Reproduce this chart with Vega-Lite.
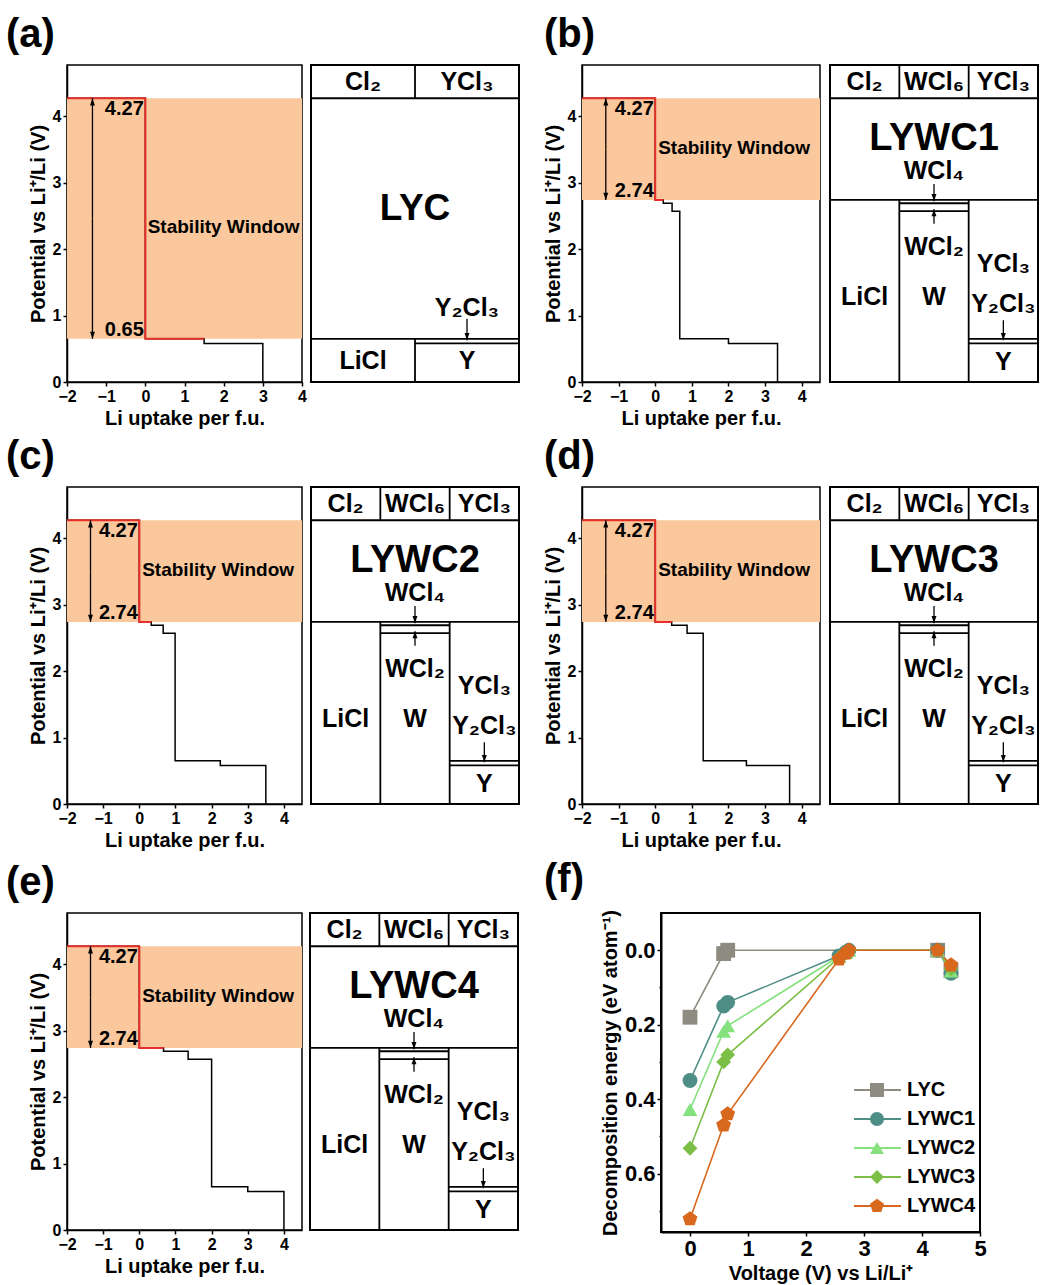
{
  "$schema": "https://vega.github.io/schema/vega-lite/v6.json",
  "padding": {"left": 5, "top": 14, "right": 2, "bottom": 2},
  "background": "white",
  "spacing": 7,
  "resolve": {"scale": {"shape": "independent", "color": "independent", "stroke": "independent"}},
  "config": {
    "font": "Liberation Sans",
    "axis": {"domainColor": "black", "domainWidth": 1.5, "tickColor": "black", "tickWidth": 1.5, "tickSize": 4, "labelColor": "black", "labelFont": "Liberation Sans", "labelFontWeight": "bold", "labelFontSize": 16, "labelPadding": 2, "labelFlush": false, "labelOverlap": false, "labelBound": false, "titleFont": "Liberation Sans", "titleFontWeight": "bold", "titleFontSize": 20, "titleColor": "black", "grid": false},
    "title": {"font": "Liberation Sans", "fontWeight": "bold", "fontSize": 40, "color": "black", "anchor": "start", "frame": "group", "offset": 10}
  },
  "datasets": {
    "steps": [
      {"p": "a", "part": "black", "x": -2, "y": 4.27}, {"p": "a", "part": "black", "x": 0, "y": 0.65}, {"p": "a", "part": "black", "x": 1.5, "y": 0.58}, {"p": "a", "part": "black", "x": 3, "y": 0},
      {"p": "a", "part": "red", "x": -2, "y": 4.27}, {"p": "a", "part": "red", "x": 0, "y": 0.65}, {"p": "a", "part": "red", "x": 1.5, "y": 0.65},
      {"p": "b", "part": "black", "x": -2, "y": 4.27}, {"p": "b", "part": "black", "x": 0, "y": 2.74}, {"p": "b", "part": "black", "x": 0.22, "y": 2.69}, {"p": "b", "part": "black", "x": 0.46, "y": 2.57}, {"p": "b", "part": "black", "x": 0.67, "y": 0.65}, {"p": "b", "part": "black", "x": 2.0, "y": 0.58}, {"p": "b", "part": "black", "x": 3.34, "y": 0},
      {"p": "b", "part": "red", "x": -2, "y": 4.27}, {"p": "b", "part": "red", "x": 0, "y": 2.74}, {"p": "b", "part": "red", "x": 0.22, "y": 2.74},
      {"p": "c", "part": "black", "x": -2, "y": 4.27}, {"p": "c", "part": "black", "x": 0, "y": 2.74}, {"p": "c", "part": "black", "x": 0.33, "y": 2.69}, {"p": "c", "part": "black", "x": 0.66, "y": 2.57}, {"p": "c", "part": "black", "x": 0.99, "y": 0.65}, {"p": "c", "part": "black", "x": 2.24, "y": 0.58}, {"p": "c", "part": "black", "x": 3.5, "y": 0},
      {"p": "c", "part": "red", "x": -2, "y": 4.27}, {"p": "c", "part": "red", "x": 0, "y": 2.74}, {"p": "c", "part": "red", "x": 0.33, "y": 2.74},
      {"p": "d", "part": "black", "x": -2, "y": 4.27}, {"p": "d", "part": "black", "x": 0, "y": 2.74}, {"p": "d", "part": "black", "x": 0.45, "y": 2.69}, {"p": "d", "part": "black", "x": 0.87, "y": 2.57}, {"p": "d", "part": "black", "x": 1.31, "y": 0.65}, {"p": "d", "part": "black", "x": 2.49, "y": 0.58}, {"p": "d", "part": "black", "x": 3.67, "y": 0},
      {"p": "d", "part": "red", "x": -2, "y": 4.27}, {"p": "d", "part": "red", "x": 0, "y": 2.74}, {"p": "d", "part": "red", "x": 0.45, "y": 2.74},
      {"p": "e", "part": "black", "x": -2, "y": 4.27}, {"p": "e", "part": "black", "x": 0, "y": 2.74}, {"p": "e", "part": "black", "x": 0.67, "y": 2.69}, {"p": "e", "part": "black", "x": 1.35, "y": 2.57}, {"p": "e", "part": "black", "x": 2.0, "y": 0.65}, {"p": "e", "part": "black", "x": 3.0, "y": 0.58}, {"p": "e", "part": "black", "x": 4.0, "y": 0},
      {"p": "e", "part": "red", "x": -2, "y": 4.27}, {"p": "e", "part": "red", "x": 0, "y": 2.74}, {"p": "e", "part": "red", "x": 0.67, "y": 2.74}
    ],
    "windows": [
      {"p": "a", "x1": -2, "x2": 4, "y1": 0.65, "y2": 4.27},
      {"p": "b", "x1": -2, "x2": 4.5, "y1": 2.74, "y2": 4.27},
      {"p": "c", "x1": -2, "x2": 4.5, "y1": 2.74, "y2": 4.27},
      {"p": "d", "x1": -2, "x2": 4.5, "y1": 2.74, "y2": 4.27},
      {"p": "e", "x1": -2, "x2": 4.5, "y1": 2.74, "y2": 4.27}
    ],
    "annot": [
      {"p": "a", "k": "v", "x": -0.04, "y": 4.11, "t": "4.27"}, {"p": "a", "k": "v", "x": -0.04, "y": 0.78, "t": "0.65"}, {"p": "a", "k": "n", "x": 0.06, "y": 2.33, "t": "Stability Window"},
      {"p": "b", "k": "v", "x": -0.04, "y": 4.11, "t": "4.27"}, {"p": "b", "k": "v", "x": -0.04, "y": 2.87, "t": "2.74"}, {"p": "b", "k": "n", "x": 0.08, "y": 3.52, "t": "Stability Window"},
      {"p": "c", "k": "v", "x": -0.04, "y": 4.11, "t": "4.27"}, {"p": "c", "k": "v", "x": -0.04, "y": 2.87, "t": "2.74"}, {"p": "c", "k": "n", "x": 0.08, "y": 3.52, "t": "Stability Window"},
      {"p": "d", "k": "v", "x": -0.04, "y": 4.11, "t": "4.27"}, {"p": "d", "k": "v", "x": -0.04, "y": 2.87, "t": "2.74"}, {"p": "d", "k": "n", "x": 0.08, "y": 3.52, "t": "Stability Window"},
      {"p": "e", "k": "v", "x": -0.04, "y": 4.11, "t": "4.27"}, {"p": "e", "k": "v", "x": -0.04, "y": 2.87, "t": "2.74"}, {"p": "e", "k": "n", "x": 0.08, "y": 3.52, "t": "Stability Window"}
    ],
    "arrows": [
      {"p": "a", "x": -1.35, "from": 2.46, "to": 4.27, "dir": "up"}, {"p": "a", "x": -1.35, "from": 2.46, "to": 0.65, "dir": "down"},
      {"p": "b", "x": -1.35, "from": 3.5, "to": 4.27, "dir": "up"}, {"p": "b", "x": -1.35, "from": 3.5, "to": 2.74, "dir": "down"},
      {"p": "c", "x": -1.35, "from": 3.5, "to": 4.27, "dir": "up"}, {"p": "c", "x": -1.35, "from": 3.5, "to": 2.74, "dir": "down"},
      {"p": "d", "x": -1.35, "from": 3.5, "to": 4.27, "dir": "up"}, {"p": "d", "x": -1.35, "from": 3.5, "to": 2.74, "dir": "down"},
      {"p": "e", "x": -1.35, "from": 3.5, "to": 4.27, "dir": "up"}, {"p": "e", "x": -1.35, "from": 3.5, "to": 2.74, "dir": "down"},
      {"p": "LYC", "x": 1.5, "from": 0.95, "to": 0.63, "dir": "down"},
      {"p": "LYWC", "x": 1.5, "from": 2.98, "to": 2.72, "dir": "down"},
      {"p": "LYWC", "x": 1.5, "from": 2.38, "to": 2.6, "dir": "up"},
      {"p": "LYWC", "x": 2.5, "from": 0.93, "to": 0.63, "dir": "down"}
    ],
    "boxlines": [
      {"p": "LYC", "x1": 0, "x2": 2, "y1": 4.27, "y2": 4.27}, {"p": "LYC", "x1": 0, "x2": 2, "y1": 0.65, "y2": 0.65},
      {"p": "LYC", "x1": 1, "x2": 1, "y1": 4.27, "y2": 4.77}, {"p": "LYC", "x1": 1, "x2": 1, "y1": 0, "y2": 0.65},
      {"p": "LYC", "x1": 1, "x2": 2, "y1": 0.58, "y2": 0.58},
      {"p": "LYWC", "x1": 0, "x2": 3, "y1": 4.27, "y2": 4.27}, {"p": "LYWC", "x1": 0, "x2": 3, "y1": 2.74, "y2": 2.74},
      {"p": "LYWC", "x1": 1, "x2": 1, "y1": 4.27, "y2": 4.77}, {"p": "LYWC", "x1": 2, "x2": 2, "y1": 4.27, "y2": 4.77},
      {"p": "LYWC", "x1": 1, "x2": 1, "y1": 0, "y2": 2.74}, {"p": "LYWC", "x1": 2, "x2": 2, "y1": 0, "y2": 2.74},
      {"p": "LYWC", "x1": 1, "x2": 2, "y1": 2.69, "y2": 2.69}, {"p": "LYWC", "x1": 1, "x2": 2, "y1": 2.57, "y2": 2.57},
      {"p": "LYWC", "x1": 2, "x2": 3, "y1": 0.65, "y2": 0.65}, {"p": "LYWC", "x1": 2, "x2": 3, "y1": 0.58, "y2": 0.58}
    ],
    "boxtext": [
      {"p": "LYC", "k": "l", "x": 0.5, "y": 4.52, "t": "Cl₂"}, {"p": "LYC", "k": "l", "x": 1.5, "y": 4.52, "t": "YCl₃"},
      {"p": "LYC", "k": "l", "x": 1.5, "y": 1.12, "t": "Y₂Cl₃"}, {"p": "LYC", "k": "l", "x": 0.5, "y": 0.31, "t": "LiCl"}, {"p": "LYC", "k": "l", "x": 1.5, "y": 0.31, "t": "Y"},
      {"p": "LYWC", "k": "l", "x": 0.5, "y": 4.52, "t": "Cl₂"}, {"p": "LYWC", "k": "l", "x": 1.5, "y": 4.52, "t": "WCl₆"}, {"p": "LYWC", "k": "l", "x": 2.5, "y": 4.52, "t": "YCl₃"},
      {"p": "LYWC", "k": "l", "x": 1.5, "y": 3.18, "t": "WCl₄"}, {"p": "LYWC", "k": "l", "x": 1.5, "y": 2.03, "t": "WCl₂"},
      {"p": "LYWC", "k": "l", "x": 2.5, "y": 1.78, "t": "YCl₃"}, {"p": "LYWC", "k": "l", "x": 0.5, "y": 1.28, "t": "LiCl"},
      {"p": "LYWC", "k": "l", "x": 1.5, "y": 1.28, "t": "W"}, {"p": "LYWC", "k": "l", "x": 2.5, "y": 1.17, "t": "Y₂Cl₃"}, {"p": "LYWC", "k": "l", "x": 2.5, "y": 0.3, "t": "Y"},
      {"p": "A", "k": "b", "x": 1.0, "y": 2.6, "t": "LYC"},
      {"p": "B", "k": "b", "x": 1.5, "y": 3.65, "t": "LYWC1"},
      {"p": "C", "k": "b", "x": 1.5, "y": 3.65, "t": "LYWC2"},
      {"p": "D", "k": "b", "x": 1.5, "y": 3.65, "t": "LYWC3"},
      {"p": "E", "k": "b", "x": 1.5, "y": 3.65, "t": "LYWC4"}
    ],
    "decomp": [
      {"s": "LYC", "v": 0, "e": 0.18}, {"s": "LYC", "v": 0.58, "e": 0.009}, {"s": "LYC", "v": 0.65, "e": 0}, {"s": "LYC", "v": 4.27, "e": 0}, {"s": "LYC", "v": 4.5, "e": 0.055},
      {"s": "LYWC1", "v": 0, "e": 0.35}, {"s": "LYWC1", "v": 0.58, "e": 0.15}, {"s": "LYWC1", "v": 0.65, "e": 0.14}, {"s": "LYWC1", "v": 2.57, "e": 0.015}, {"s": "LYWC1", "v": 2.69, "e": 0.005}, {"s": "LYWC1", "v": 2.74, "e": 0}, {"s": "LYWC1", "v": 4.27, "e": 0}, {"s": "LYWC1", "v": 4.5, "e": 0.062},
      {"s": "LYWC2", "v": 0, "e": 0.428}, {"s": "LYWC2", "v": 0.58, "e": 0.218}, {"s": "LYWC2", "v": 0.65, "e": 0.203}, {"s": "LYWC2", "v": 2.57, "e": 0.017}, {"s": "LYWC2", "v": 2.69, "e": 0.006}, {"s": "LYWC2", "v": 2.74, "e": 0}, {"s": "LYWC2", "v": 4.27, "e": 0}, {"s": "LYWC2", "v": 4.5, "e": 0.056},
      {"s": "LYWC3", "v": 0, "e": 0.532}, {"s": "LYWC3", "v": 0.58, "e": 0.3}, {"s": "LYWC3", "v": 0.65, "e": 0.281}, {"s": "LYWC3", "v": 2.57, "e": 0.02}, {"s": "LYWC3", "v": 2.69, "e": 0.007}, {"s": "LYWC3", "v": 2.74, "e": 0}, {"s": "LYWC3", "v": 4.27, "e": 0}, {"s": "LYWC3", "v": 4.5, "e": 0.05},
      {"s": "LYWC4", "v": 0, "e": 0.722}, {"s": "LYWC4", "v": 0.58, "e": 0.47}, {"s": "LYWC4", "v": 0.65, "e": 0.44}, {"s": "LYWC4", "v": 2.57, "e": 0.024}, {"s": "LYWC4", "v": 2.69, "e": 0.008}, {"s": "LYWC4", "v": 2.74, "e": 0}, {"s": "LYWC4", "v": 4.27, "e": 0}, {"s": "LYWC4", "v": 4.5, "e": 0.04}
    ]
  },
  "vconcat": [
   {"bounds": "flush", "spacing": 0, "resolve": {"scale": {"shape": "independent", "color": "independent", "stroke": "independent"}},
    "hconcat": [
    {"width": 235, "height": 317, "title": {"text": "(a)", "dx": -61}, "view": {"stroke": "black", "strokeWidth": 1.5},
     "layer": [
      {"data": {"name": "windows"}, "transform": [{"filter": "datum.p == 'a'"}], "mark": {"type": "rect", "color": "#FAC89C"},
       "encoding": {
         "x": {"field": "x1", "type": "quantitative", "scale": {"domain": [-2, 4], "nice": false, "zero": false}, "axis": {"title": "Li uptake per f.u.", "tickCount": 40, "labelOverlap": false, "values": [-2, -1.5, -1, -0.5, 0, 0.5, 1, 1.5, 2, 2.5, 3, 3.5, 4], "format": "d", "labelExpr": "datum.value % 1 == 0 ? datum.label : ''", "tickSize": {"condition": {"test": "datum.value % 1 != 0", "value": 2}, "value": 4}}},
         "x2": {"field": "x2"},
         "y": {"field": "y1", "type": "quantitative", "scale": {"domain": [0, 4.77], "nice": false, "zero": false}, "axis": {"title": "Potential vs Li⁺/Li (V)", "tickCount": 40, "labelOverlap": false, "values": [0, 0.5, 1, 1.5, 2, 2.5, 3, 3.5, 4, 4.5], "format": "d", "labelExpr": "datum.value % 1 == 0 ? datum.label : ''", "tickSize": {"condition": {"test": "datum.value % 1 != 0", "value": 2}, "value": 4}}},
         "y2": {"field": "y2"}}},
      {"data": {"name": "steps"}, "transform": [{"filter": "datum.p == 'a' && datum.part == 'black'"}], "mark": {"type": "line", "color": "black", "strokeWidth": 1.5, "interpolate": "step-after"},
       "encoding": {"x": {"field": "x", "type": "quantitative"}, "y": {"field": "y", "type": "quantitative"}}},
      {"data": {"name": "steps"}, "transform": [{"filter": "datum.p == 'a' && datum.part == 'red'"}], "mark": {"type": "line", "color": "#E8302A", "strokeWidth": 2, "interpolate": "step-after"},
       "encoding": {"x": {"field": "x", "type": "quantitative"}, "y": {"field": "y", "type": "quantitative"}}},
      {"data": {"name": "arrows"}, "transform": [{"filter": "datum.p == 'a'"}], "mark": {"type": "rule", "color": "black", "strokeWidth": 1.3},
       "encoding": {"x": {"field": "x", "type": "quantitative"}, "y": {"field": "from", "type": "quantitative"}, "y2": {"field": "to"}}},
      {"data": {"name": "arrows"}, "transform": [{"filter": "datum.p == 'a'"}], "mark": {"type": "point", "filled": true, "color": "black", "size": 80, "opacity": 1},
       "encoding": {"x": {"field": "x", "type": "quantitative"}, "y": {"field": "to", "type": "quantitative"}, "shape": {"field": "dir", "type": "nominal", "scale": {"domain": ["down", "up"], "range": ["M0,0L-0.55,-1.6L0.55,-1.6Z", "M0,0L-0.55,1.6L0.55,1.6Z"]}, "legend": null}}},
      {"data": {"name": "annot"}, "transform": [{"filter": "datum.p == 'a' && datum.k == 'v'"}], "mark": {"type": "text", "align": "right", "baseline": "middle", "fontSize": 20, "fontWeight": "bold", "color": "black"},
       "encoding": {"x": {"field": "x", "type": "quantitative"}, "y": {"field": "y", "type": "quantitative"}, "text": {"field": "t", "type": "nominal"}}},
      {"data": {"name": "annot"}, "transform": [{"filter": "datum.p == 'a' && datum.k == 'n'"}], "mark": {"type": "text", "align": "left", "baseline": "middle", "fontSize": 19, "fontWeight": "bold", "color": "black"},
       "encoding": {"x": {"field": "x", "type": "quantitative"}, "y": {"field": "y", "type": "quantitative"}, "text": {"field": "t", "type": "nominal"}}}
     ]},
    {"width": 9, "height": 10, "data": {"values": []}, "mark": {"type": "point", "opacity": 0}, "view": {"stroke": null}},
    {"width": 208, "height": 317, "view": {"stroke": "black", "strokeWidth": 2},
     "layer": [
      {"data": {"name": "boxlines"}, "transform": [{"filter": "datum.p == 'LYC'"}], "mark": {"type": "rule", "color": "black", "strokeWidth": 1.8},
       "encoding": {"x": {"field": "x1", "type": "quantitative", "scale": {"domain": [0, 2], "nice": false, "zero": false}, "axis": null}, "x2": {"field": "x2"}, "y": {"field": "y1", "type": "quantitative", "scale": {"domain": [0, 4.77], "nice": false, "zero": false}, "axis": null}, "y2": {"field": "y2"}}},
      {"data": {"name": "boxtext"}, "transform": [{"filter": "datum.p == 'LYC' && datum.k == 'l'"}], "mark": {"type": "text", "fontSize": 25, "fontWeight": "bold", "color": "black", "align": "center", "baseline": "middle"},
       "encoding": {"x": {"field": "x", "type": "quantitative", "axis": null}, "y": {"field": "y", "type": "quantitative", "axis": null}, "text": {"field": "t", "type": "nominal"}}},
      {"data": {"name": "boxtext"}, "transform": [{"filter": "datum.p == 'A'"}], "mark": {"type": "text", "fontSize": 37, "fontWeight": "bold", "color": "black", "align": "center", "baseline": "middle"},
       "encoding": {"x": {"field": "x", "type": "quantitative", "axis": null}, "y": {"field": "y", "type": "quantitative", "axis": null}, "text": {"field": "t", "type": "nominal"}}},
      {"data": {"name": "arrows"}, "transform": [{"filter": "datum.p == 'LYC'"}], "mark": {"type": "rule", "color": "black", "strokeWidth": 1.3},
       "encoding": {"x": {"field": "x", "type": "quantitative", "axis": null}, "y": {"field": "from", "type": "quantitative", "axis": null}, "y2": {"field": "to"}}},
      {"data": {"name": "arrows"}, "transform": [{"filter": "datum.p == 'LYC'"}], "mark": {"type": "point", "filled": true, "color": "black", "size": 80, "opacity": 1},
       "encoding": {"x": {"field": "x", "type": "quantitative", "axis": null}, "y": {"field": "to", "type": "quantitative", "axis": null}, "shape": {"field": "dir", "type": "nominal", "scale": {"domain": ["down", "up"], "range": ["M0,0L-0.55,-1.6L0.55,-1.6Z", "M0,0L-0.55,1.6L0.55,1.6Z"]}, "legend": null}}}
     ]},
    {"width": 63, "height": 10, "data": {"values": []}, "mark": {"type": "point", "opacity": 0}, "view": {"stroke": null}},
    {"width": 238, "height": 317, "title": {"text": "(b)", "dx": -38}, "view": {"stroke": "black", "strokeWidth": 1.5},
     "layer": [
      {"data": {"name": "windows"}, "transform": [{"filter": "datum.p == 'b'"}], "mark": {"type": "rect", "color": "#FAC89C"},
       "encoding": {
         "x": {"field": "x1", "type": "quantitative", "scale": {"domain": [-2, 4.5], "nice": false, "zero": false}, "axis": {"title": "Li uptake per f.u.", "tickCount": 40, "labelOverlap": false, "values": [-2, -1.5, -1, -0.5, 0, 0.5, 1, 1.5, 2, 2.5, 3, 3.5, 4, 4.5], "format": "d", "labelExpr": "datum.value % 1 == 0 ? datum.label : ''", "tickSize": {"condition": {"test": "datum.value % 1 != 0", "value": 2}, "value": 4}}},
         "x2": {"field": "x2"},
         "y": {"field": "y1", "type": "quantitative", "scale": {"domain": [0, 4.77], "nice": false, "zero": false}, "axis": {"title": "Potential vs Li⁺/Li (V)", "tickCount": 40, "labelOverlap": false, "values": [0, 0.5, 1, 1.5, 2, 2.5, 3, 3.5, 4, 4.5], "format": "d", "labelExpr": "datum.value % 1 == 0 ? datum.label : ''", "tickSize": {"condition": {"test": "datum.value % 1 != 0", "value": 2}, "value": 4}}},
         "y2": {"field": "y2"}}},
      {"data": {"name": "steps"}, "transform": [{"filter": "datum.p == 'b' && datum.part == 'black'"}], "mark": {"type": "line", "color": "black", "strokeWidth": 1.5, "interpolate": "step-after"},
       "encoding": {"x": {"field": "x", "type": "quantitative"}, "y": {"field": "y", "type": "quantitative"}}},
      {"data": {"name": "steps"}, "transform": [{"filter": "datum.p == 'b' && datum.part == 'red'"}], "mark": {"type": "line", "color": "#E8302A", "strokeWidth": 2, "interpolate": "step-after"},
       "encoding": {"x": {"field": "x", "type": "quantitative"}, "y": {"field": "y", "type": "quantitative"}}},
      {"data": {"name": "arrows"}, "transform": [{"filter": "datum.p == 'b'"}], "mark": {"type": "rule", "color": "black", "strokeWidth": 1.3},
       "encoding": {"x": {"field": "x", "type": "quantitative"}, "y": {"field": "from", "type": "quantitative"}, "y2": {"field": "to"}}},
      {"data": {"name": "arrows"}, "transform": [{"filter": "datum.p == 'b'"}], "mark": {"type": "point", "filled": true, "color": "black", "size": 80, "opacity": 1},
       "encoding": {"x": {"field": "x", "type": "quantitative"}, "y": {"field": "to", "type": "quantitative"}, "shape": {"field": "dir", "type": "nominal", "scale": {"domain": ["down", "up"], "range": ["M0,0L-0.55,-1.6L0.55,-1.6Z", "M0,0L-0.55,1.6L0.55,1.6Z"]}, "legend": null}}},
      {"data": {"name": "annot"}, "transform": [{"filter": "datum.p == 'b' && datum.k == 'v'"}], "mark": {"type": "text", "align": "right", "baseline": "middle", "fontSize": 20, "fontWeight": "bold", "color": "black"},
       "encoding": {"x": {"field": "x", "type": "quantitative"}, "y": {"field": "y", "type": "quantitative"}, "text": {"field": "t", "type": "nominal"}}},
      {"data": {"name": "annot"}, "transform": [{"filter": "datum.p == 'b' && datum.k == 'n'"}], "mark": {"type": "text", "align": "left", "baseline": "middle", "fontSize": 19, "fontWeight": "bold", "color": "black"},
       "encoding": {"x": {"field": "x", "type": "quantitative"}, "y": {"field": "y", "type": "quantitative"}, "text": {"field": "t", "type": "nominal"}}}
     ]},
    {"width": 10, "height": 10, "data": {"values": []}, "mark": {"type": "point", "opacity": 0}, "view": {"stroke": null}},
    {"width": 208, "height": 317, "view": {"stroke": "black", "strokeWidth": 2},
     "layer": [
      {"data": {"name": "boxlines"}, "transform": [{"filter": "datum.p == 'LYWC'"}], "mark": {"type": "rule", "color": "black", "strokeWidth": 1.8},
       "encoding": {"x": {"field": "x1", "type": "quantitative", "scale": {"domain": [0, 3], "nice": false, "zero": false}, "axis": null}, "x2": {"field": "x2"}, "y": {"field": "y1", "type": "quantitative", "scale": {"domain": [0, 4.77], "nice": false, "zero": false}, "axis": null}, "y2": {"field": "y2"}}},
      {"data": {"name": "boxtext"}, "transform": [{"filter": "datum.p == 'LYWC' && datum.k == 'l'"}], "mark": {"type": "text", "fontSize": 25, "fontWeight": "bold", "color": "black", "align": "center", "baseline": "middle"},
       "encoding": {"x": {"field": "x", "type": "quantitative", "axis": null}, "y": {"field": "y", "type": "quantitative", "axis": null}, "text": {"field": "t", "type": "nominal"}}},
      {"data": {"name": "boxtext"}, "transform": [{"filter": "datum.p == 'B'"}], "mark": {"type": "text", "fontSize": 38, "fontWeight": "bold", "color": "black", "align": "center", "baseline": "middle"},
       "encoding": {"x": {"field": "x", "type": "quantitative", "axis": null}, "y": {"field": "y", "type": "quantitative", "axis": null}, "text": {"field": "t", "type": "nominal"}}},
      {"data": {"name": "arrows"}, "transform": [{"filter": "datum.p == 'LYWC'"}], "mark": {"type": "rule", "color": "black", "strokeWidth": 1.3},
       "encoding": {"x": {"field": "x", "type": "quantitative", "axis": null}, "y": {"field": "from", "type": "quantitative", "axis": null}, "y2": {"field": "to"}}},
      {"data": {"name": "arrows"}, "transform": [{"filter": "datum.p == 'LYWC'"}], "mark": {"type": "point", "filled": true, "color": "black", "size": 80, "opacity": 1},
       "encoding": {"x": {"field": "x", "type": "quantitative", "axis": null}, "y": {"field": "to", "type": "quantitative", "axis": null}, "shape": {"field": "dir", "type": "nominal", "scale": {"domain": ["down", "up"], "range": ["M0,0L-0.55,-1.6L0.55,-1.6Z", "M0,0L-0.55,1.6L0.55,1.6Z"]}, "legend": null}}}
     ]}
   ]},
   {"bounds": "flush", "spacing": 0, "resolve": {"scale": {"shape": "independent", "color": "independent", "stroke": "independent"}},
    "hconcat": [
    {"width": 235, "height": 317, "title": {"text": "(c)", "dx": -61}, "view": {"stroke": "black", "strokeWidth": 1.5},
     "layer": [
      {"data": {"name": "windows"}, "transform": [{"filter": "datum.p == 'c'"}], "mark": {"type": "rect", "color": "#FAC89C"},
       "encoding": {
         "x": {"field": "x1", "type": "quantitative", "scale": {"domain": [-2, 4.5], "nice": false, "zero": false}, "axis": {"title": "Li uptake per f.u.", "tickCount": 40, "labelOverlap": false, "values": [-2, -1.5, -1, -0.5, 0, 0.5, 1, 1.5, 2, 2.5, 3, 3.5, 4, 4.5], "format": "d", "labelExpr": "datum.value % 1 == 0 ? datum.label : ''", "tickSize": {"condition": {"test": "datum.value % 1 != 0", "value": 2}, "value": 4}}},
         "x2": {"field": "x2"},
         "y": {"field": "y1", "type": "quantitative", "scale": {"domain": [0, 4.77], "nice": false, "zero": false}, "axis": {"title": "Potential vs Li⁺/Li (V)", "tickCount": 40, "labelOverlap": false, "values": [0, 0.5, 1, 1.5, 2, 2.5, 3, 3.5, 4, 4.5], "format": "d", "labelExpr": "datum.value % 1 == 0 ? datum.label : ''", "tickSize": {"condition": {"test": "datum.value % 1 != 0", "value": 2}, "value": 4}}},
         "y2": {"field": "y2"}}},
      {"data": {"name": "steps"}, "transform": [{"filter": "datum.p == 'c' && datum.part == 'black'"}], "mark": {"type": "line", "color": "black", "strokeWidth": 1.5, "interpolate": "step-after"},
       "encoding": {"x": {"field": "x", "type": "quantitative"}, "y": {"field": "y", "type": "quantitative"}}},
      {"data": {"name": "steps"}, "transform": [{"filter": "datum.p == 'c' && datum.part == 'red'"}], "mark": {"type": "line", "color": "#E8302A", "strokeWidth": 2, "interpolate": "step-after"},
       "encoding": {"x": {"field": "x", "type": "quantitative"}, "y": {"field": "y", "type": "quantitative"}}},
      {"data": {"name": "arrows"}, "transform": [{"filter": "datum.p == 'c'"}], "mark": {"type": "rule", "color": "black", "strokeWidth": 1.3},
       "encoding": {"x": {"field": "x", "type": "quantitative"}, "y": {"field": "from", "type": "quantitative"}, "y2": {"field": "to"}}},
      {"data": {"name": "arrows"}, "transform": [{"filter": "datum.p == 'c'"}], "mark": {"type": "point", "filled": true, "color": "black", "size": 80, "opacity": 1},
       "encoding": {"x": {"field": "x", "type": "quantitative"}, "y": {"field": "to", "type": "quantitative"}, "shape": {"field": "dir", "type": "nominal", "scale": {"domain": ["down", "up"], "range": ["M0,0L-0.55,-1.6L0.55,-1.6Z", "M0,0L-0.55,1.6L0.55,1.6Z"]}, "legend": null}}},
      {"data": {"name": "annot"}, "transform": [{"filter": "datum.p == 'c' && datum.k == 'v'"}], "mark": {"type": "text", "align": "right", "baseline": "middle", "fontSize": 20, "fontWeight": "bold", "color": "black"},
       "encoding": {"x": {"field": "x", "type": "quantitative"}, "y": {"field": "y", "type": "quantitative"}, "text": {"field": "t", "type": "nominal"}}},
      {"data": {"name": "annot"}, "transform": [{"filter": "datum.p == 'c' && datum.k == 'n'"}], "mark": {"type": "text", "align": "left", "baseline": "middle", "fontSize": 19, "fontWeight": "bold", "color": "black"},
       "encoding": {"x": {"field": "x", "type": "quantitative"}, "y": {"field": "y", "type": "quantitative"}, "text": {"field": "t", "type": "nominal"}}}
     ]},
    {"width": 9, "height": 10, "data": {"values": []}, "mark": {"type": "point", "opacity": 0}, "view": {"stroke": null}},
    {"width": 208, "height": 317, "view": {"stroke": "black", "strokeWidth": 2},
     "layer": [
      {"data": {"name": "boxlines"}, "transform": [{"filter": "datum.p == 'LYWC'"}], "mark": {"type": "rule", "color": "black", "strokeWidth": 1.8},
       "encoding": {"x": {"field": "x1", "type": "quantitative", "scale": {"domain": [0, 3], "nice": false, "zero": false}, "axis": null}, "x2": {"field": "x2"}, "y": {"field": "y1", "type": "quantitative", "scale": {"domain": [0, 4.77], "nice": false, "zero": false}, "axis": null}, "y2": {"field": "y2"}}},
      {"data": {"name": "boxtext"}, "transform": [{"filter": "datum.p == 'LYWC' && datum.k == 'l'"}], "mark": {"type": "text", "fontSize": 25, "fontWeight": "bold", "color": "black", "align": "center", "baseline": "middle"},
       "encoding": {"x": {"field": "x", "type": "quantitative", "axis": null}, "y": {"field": "y", "type": "quantitative", "axis": null}, "text": {"field": "t", "type": "nominal"}}},
      {"data": {"name": "boxtext"}, "transform": [{"filter": "datum.p == 'C'"}], "mark": {"type": "text", "fontSize": 38, "fontWeight": "bold", "color": "black", "align": "center", "baseline": "middle"},
       "encoding": {"x": {"field": "x", "type": "quantitative", "axis": null}, "y": {"field": "y", "type": "quantitative", "axis": null}, "text": {"field": "t", "type": "nominal"}}},
      {"data": {"name": "arrows"}, "transform": [{"filter": "datum.p == 'LYWC'"}], "mark": {"type": "rule", "color": "black", "strokeWidth": 1.3},
       "encoding": {"x": {"field": "x", "type": "quantitative", "axis": null}, "y": {"field": "from", "type": "quantitative", "axis": null}, "y2": {"field": "to"}}},
      {"data": {"name": "arrows"}, "transform": [{"filter": "datum.p == 'LYWC'"}], "mark": {"type": "point", "filled": true, "color": "black", "size": 80, "opacity": 1},
       "encoding": {"x": {"field": "x", "type": "quantitative", "axis": null}, "y": {"field": "to", "type": "quantitative", "axis": null}, "shape": {"field": "dir", "type": "nominal", "scale": {"domain": ["down", "up"], "range": ["M0,0L-0.55,-1.6L0.55,-1.6Z", "M0,0L-0.55,1.6L0.55,1.6Z"]}, "legend": null}}}
     ]},
    {"width": 63, "height": 10, "data": {"values": []}, "mark": {"type": "point", "opacity": 0}, "view": {"stroke": null}},
    {"width": 238, "height": 317, "title": {"text": "(d)", "dx": -38}, "view": {"stroke": "black", "strokeWidth": 1.5},
     "layer": [
      {"data": {"name": "windows"}, "transform": [{"filter": "datum.p == 'd'"}], "mark": {"type": "rect", "color": "#FAC89C"},
       "encoding": {
         "x": {"field": "x1", "type": "quantitative", "scale": {"domain": [-2, 4.5], "nice": false, "zero": false}, "axis": {"title": "Li uptake per f.u.", "tickCount": 40, "labelOverlap": false, "values": [-2, -1.5, -1, -0.5, 0, 0.5, 1, 1.5, 2, 2.5, 3, 3.5, 4, 4.5], "format": "d", "labelExpr": "datum.value % 1 == 0 ? datum.label : ''", "tickSize": {"condition": {"test": "datum.value % 1 != 0", "value": 2}, "value": 4}}},
         "x2": {"field": "x2"},
         "y": {"field": "y1", "type": "quantitative", "scale": {"domain": [0, 4.77], "nice": false, "zero": false}, "axis": {"title": "Potential vs Li⁺/Li (V)", "tickCount": 40, "labelOverlap": false, "values": [0, 0.5, 1, 1.5, 2, 2.5, 3, 3.5, 4, 4.5], "format": "d", "labelExpr": "datum.value % 1 == 0 ? datum.label : ''", "tickSize": {"condition": {"test": "datum.value % 1 != 0", "value": 2}, "value": 4}}},
         "y2": {"field": "y2"}}},
      {"data": {"name": "steps"}, "transform": [{"filter": "datum.p == 'd' && datum.part == 'black'"}], "mark": {"type": "line", "color": "black", "strokeWidth": 1.5, "interpolate": "step-after"},
       "encoding": {"x": {"field": "x", "type": "quantitative"}, "y": {"field": "y", "type": "quantitative"}}},
      {"data": {"name": "steps"}, "transform": [{"filter": "datum.p == 'd' && datum.part == 'red'"}], "mark": {"type": "line", "color": "#E8302A", "strokeWidth": 2, "interpolate": "step-after"},
       "encoding": {"x": {"field": "x", "type": "quantitative"}, "y": {"field": "y", "type": "quantitative"}}},
      {"data": {"name": "arrows"}, "transform": [{"filter": "datum.p == 'd'"}], "mark": {"type": "rule", "color": "black", "strokeWidth": 1.3},
       "encoding": {"x": {"field": "x", "type": "quantitative"}, "y": {"field": "from", "type": "quantitative"}, "y2": {"field": "to"}}},
      {"data": {"name": "arrows"}, "transform": [{"filter": "datum.p == 'd'"}], "mark": {"type": "point", "filled": true, "color": "black", "size": 80, "opacity": 1},
       "encoding": {"x": {"field": "x", "type": "quantitative"}, "y": {"field": "to", "type": "quantitative"}, "shape": {"field": "dir", "type": "nominal", "scale": {"domain": ["down", "up"], "range": ["M0,0L-0.55,-1.6L0.55,-1.6Z", "M0,0L-0.55,1.6L0.55,1.6Z"]}, "legend": null}}},
      {"data": {"name": "annot"}, "transform": [{"filter": "datum.p == 'd' && datum.k == 'v'"}], "mark": {"type": "text", "align": "right", "baseline": "middle", "fontSize": 20, "fontWeight": "bold", "color": "black"},
       "encoding": {"x": {"field": "x", "type": "quantitative"}, "y": {"field": "y", "type": "quantitative"}, "text": {"field": "t", "type": "nominal"}}},
      {"data": {"name": "annot"}, "transform": [{"filter": "datum.p == 'd' && datum.k == 'n'"}], "mark": {"type": "text", "align": "left", "baseline": "middle", "fontSize": 19, "fontWeight": "bold", "color": "black"},
       "encoding": {"x": {"field": "x", "type": "quantitative"}, "y": {"field": "y", "type": "quantitative"}, "text": {"field": "t", "type": "nominal"}}}
     ]},
    {"width": 10, "height": 10, "data": {"values": []}, "mark": {"type": "point", "opacity": 0}, "view": {"stroke": null}},
    {"width": 208, "height": 317, "view": {"stroke": "black", "strokeWidth": 2},
     "layer": [
      {"data": {"name": "boxlines"}, "transform": [{"filter": "datum.p == 'LYWC'"}], "mark": {"type": "rule", "color": "black", "strokeWidth": 1.8},
       "encoding": {"x": {"field": "x1", "type": "quantitative", "scale": {"domain": [0, 3], "nice": false, "zero": false}, "axis": null}, "x2": {"field": "x2"}, "y": {"field": "y1", "type": "quantitative", "scale": {"domain": [0, 4.77], "nice": false, "zero": false}, "axis": null}, "y2": {"field": "y2"}}},
      {"data": {"name": "boxtext"}, "transform": [{"filter": "datum.p == 'LYWC' && datum.k == 'l'"}], "mark": {"type": "text", "fontSize": 25, "fontWeight": "bold", "color": "black", "align": "center", "baseline": "middle"},
       "encoding": {"x": {"field": "x", "type": "quantitative", "axis": null}, "y": {"field": "y", "type": "quantitative", "axis": null}, "text": {"field": "t", "type": "nominal"}}},
      {"data": {"name": "boxtext"}, "transform": [{"filter": "datum.p == 'D'"}], "mark": {"type": "text", "fontSize": 38, "fontWeight": "bold", "color": "black", "align": "center", "baseline": "middle"},
       "encoding": {"x": {"field": "x", "type": "quantitative", "axis": null}, "y": {"field": "y", "type": "quantitative", "axis": null}, "text": {"field": "t", "type": "nominal"}}},
      {"data": {"name": "arrows"}, "transform": [{"filter": "datum.p == 'LYWC'"}], "mark": {"type": "rule", "color": "black", "strokeWidth": 1.3},
       "encoding": {"x": {"field": "x", "type": "quantitative", "axis": null}, "y": {"field": "from", "type": "quantitative", "axis": null}, "y2": {"field": "to"}}},
      {"data": {"name": "arrows"}, "transform": [{"filter": "datum.p == 'LYWC'"}], "mark": {"type": "point", "filled": true, "color": "black", "size": 80, "opacity": 1},
       "encoding": {"x": {"field": "x", "type": "quantitative", "axis": null}, "y": {"field": "to", "type": "quantitative", "axis": null}, "shape": {"field": "dir", "type": "nominal", "scale": {"domain": ["down", "up"], "range": ["M0,0L-0.55,-1.6L0.55,-1.6Z", "M0,0L-0.55,1.6L0.55,1.6Z"]}, "legend": null}}}
     ]}
   ]},
   {"bounds": "flush", "spacing": 0, "resolve": {"scale": {"shape": "independent", "color": "independent", "stroke": "independent"}},
    "hconcat": [
    {"width": 235, "height": 317, "title": {"text": "(e)", "dx": -61}, "view": {"stroke": "black", "strokeWidth": 1.5},
     "layer": [
      {"data": {"name": "windows"}, "transform": [{"filter": "datum.p == 'e'"}], "mark": {"type": "rect", "color": "#FAC89C"},
       "encoding": {
         "x": {"field": "x1", "type": "quantitative", "scale": {"domain": [-2, 4.5], "nice": false, "zero": false}, "axis": {"title": "Li uptake per f.u.", "tickCount": 40, "labelOverlap": false, "values": [-2, -1.5, -1, -0.5, 0, 0.5, 1, 1.5, 2, 2.5, 3, 3.5, 4, 4.5], "format": "d", "labelExpr": "datum.value % 1 == 0 ? datum.label : ''", "tickSize": {"condition": {"test": "datum.value % 1 != 0", "value": 2}, "value": 4}}},
         "x2": {"field": "x2"},
         "y": {"field": "y1", "type": "quantitative", "scale": {"domain": [0, 4.77], "nice": false, "zero": false}, "axis": {"title": "Potential vs Li⁺/Li (V)", "tickCount": 40, "labelOverlap": false, "values": [0, 0.5, 1, 1.5, 2, 2.5, 3, 3.5, 4, 4.5], "format": "d", "labelExpr": "datum.value % 1 == 0 ? datum.label : ''", "tickSize": {"condition": {"test": "datum.value % 1 != 0", "value": 2}, "value": 4}}},
         "y2": {"field": "y2"}}},
      {"data": {"name": "steps"}, "transform": [{"filter": "datum.p == 'e' && datum.part == 'black'"}], "mark": {"type": "line", "color": "black", "strokeWidth": 1.5, "interpolate": "step-after"},
       "encoding": {"x": {"field": "x", "type": "quantitative"}, "y": {"field": "y", "type": "quantitative"}}},
      {"data": {"name": "steps"}, "transform": [{"filter": "datum.p == 'e' && datum.part == 'red'"}], "mark": {"type": "line", "color": "#E8302A", "strokeWidth": 2, "interpolate": "step-after"},
       "encoding": {"x": {"field": "x", "type": "quantitative"}, "y": {"field": "y", "type": "quantitative"}}},
      {"data": {"name": "arrows"}, "transform": [{"filter": "datum.p == 'e'"}], "mark": {"type": "rule", "color": "black", "strokeWidth": 1.3},
       "encoding": {"x": {"field": "x", "type": "quantitative"}, "y": {"field": "from", "type": "quantitative"}, "y2": {"field": "to"}}},
      {"data": {"name": "arrows"}, "transform": [{"filter": "datum.p == 'e'"}], "mark": {"type": "point", "filled": true, "color": "black", "size": 80, "opacity": 1},
       "encoding": {"x": {"field": "x", "type": "quantitative"}, "y": {"field": "to", "type": "quantitative"}, "shape": {"field": "dir", "type": "nominal", "scale": {"domain": ["down", "up"], "range": ["M0,0L-0.55,-1.6L0.55,-1.6Z", "M0,0L-0.55,1.6L0.55,1.6Z"]}, "legend": null}}},
      {"data": {"name": "annot"}, "transform": [{"filter": "datum.p == 'e' && datum.k == 'v'"}], "mark": {"type": "text", "align": "right", "baseline": "middle", "fontSize": 20, "fontWeight": "bold", "color": "black"},
       "encoding": {"x": {"field": "x", "type": "quantitative"}, "y": {"field": "y", "type": "quantitative"}, "text": {"field": "t", "type": "nominal"}}},
      {"data": {"name": "annot"}, "transform": [{"filter": "datum.p == 'e' && datum.k == 'n'"}], "mark": {"type": "text", "align": "left", "baseline": "middle", "fontSize": 19, "fontWeight": "bold", "color": "black"},
       "encoding": {"x": {"field": "x", "type": "quantitative"}, "y": {"field": "y", "type": "quantitative"}, "text": {"field": "t", "type": "nominal"}}}
     ]},
    {"width": 8, "height": 10, "data": {"values": []}, "mark": {"type": "point", "opacity": 0}, "view": {"stroke": null}},
    {"width": 208, "height": 317, "view": {"stroke": "black", "strokeWidth": 2},
     "layer": [
      {"data": {"name": "boxlines"}, "transform": [{"filter": "datum.p == 'LYWC'"}], "mark": {"type": "rule", "color": "black", "strokeWidth": 1.8},
       "encoding": {"x": {"field": "x1", "type": "quantitative", "scale": {"domain": [0, 3], "nice": false, "zero": false}, "axis": null}, "x2": {"field": "x2"}, "y": {"field": "y1", "type": "quantitative", "scale": {"domain": [0, 4.77], "nice": false, "zero": false}, "axis": null}, "y2": {"field": "y2"}}},
      {"data": {"name": "boxtext"}, "transform": [{"filter": "datum.p == 'LYWC' && datum.k == 'l'"}], "mark": {"type": "text", "fontSize": 25, "fontWeight": "bold", "color": "black", "align": "center", "baseline": "middle"},
       "encoding": {"x": {"field": "x", "type": "quantitative", "axis": null}, "y": {"field": "y", "type": "quantitative", "axis": null}, "text": {"field": "t", "type": "nominal"}}},
      {"data": {"name": "boxtext"}, "transform": [{"filter": "datum.p == 'E'"}], "mark": {"type": "text", "fontSize": 38, "fontWeight": "bold", "color": "black", "align": "center", "baseline": "middle"},
       "encoding": {"x": {"field": "x", "type": "quantitative", "axis": null}, "y": {"field": "y", "type": "quantitative", "axis": null}, "text": {"field": "t", "type": "nominal"}}},
      {"data": {"name": "arrows"}, "transform": [{"filter": "datum.p == 'LYWC'"}], "mark": {"type": "rule", "color": "black", "strokeWidth": 1.3},
       "encoding": {"x": {"field": "x", "type": "quantitative", "axis": null}, "y": {"field": "from", "type": "quantitative", "axis": null}, "y2": {"field": "to"}}},
      {"data": {"name": "arrows"}, "transform": [{"filter": "datum.p == 'LYWC'"}], "mark": {"type": "point", "filled": true, "color": "black", "size": 80, "opacity": 1},
       "encoding": {"x": {"field": "x", "type": "quantitative", "axis": null}, "y": {"field": "to", "type": "quantitative", "axis": null}, "shape": {"field": "dir", "type": "nominal", "scale": {"domain": ["down", "up"], "range": ["M0,0L-0.55,-1.6L0.55,-1.6Z", "M0,0L-0.55,1.6L0.55,1.6Z"]}, "legend": null}}}
     ]},
    {"width": 143, "height": 10, "data": {"values": []}, "mark": {"type": "point", "opacity": 0}, "view": {"stroke": null}},
    {"width": 319, "height": 319, "title": {"text": "(f)", "dx": -117}, "view": {"stroke": "black", "strokeWidth": 2},
     "data": {"name": "decomp"},
     "layer": [
      {"mark": {"type": "line", "strokeWidth": 1.6},
       "encoding": {
         "x": {"field": "v", "type": "quantitative", "scale": {"domain": [-0.5, 5], "nice": false, "zero": false}, "axis": {"title": "Voltage (V) vs Li/Li⁺", "tickCount": 40, "labelOverlap": false, "titleFontSize": 20, "labelFontSize": 22, "domainWidth": 2, "values": [0, 0.5, 1, 1.5, 2, 2.5, 3, 3.5, 4, 4.5, 5], "format": "d", "labelExpr": "datum.value % 1 == 0 ? datum.label : ''", "tickSize": {"condition": {"test": "datum.value % 1 != 0", "value": 2}, "value": 4}}},
         "y": {"field": "e", "type": "quantitative", "scale": {"domain": [-0.1, 0.757], "reverse": true, "nice": false, "zero": false}, "axis": {"title": "Decomposition energy (eV atom⁻¹)", "tickCount": 40, "labelOverlap": false, "titleFontSize": 20, "labelFontSize": 22, "domainWidth": 2, "values": [0, 0.1, 0.2, 0.3, 0.4, 0.5, 0.6, 0.7], "format": ".1f", "labelExpr": "round(datum.value * 10) % 2 == 0 ? datum.label : ''", "tickSize": {"condition": {"test": "round(datum.value * 10) % 2 == 1", "value": 2}, "value": 4}}},
         "stroke": {"field": "s", "type": "nominal", "scale": {"domain": ["LYC", "LYWC1", "LYWC2", "LYWC3", "LYWC4"], "range": ["#8E8B80", "#4F8E86", "#85E07E", "#7CBF47", "#D8681E"]},
                    "legend": {"orient": "none", "legendX": 192, "legendY": 167, "title": null, "symbolType": "stroke", "symbolSize": 2209, "symbolStrokeWidth": 1.8, "clipHeight": 20, "rowPadding": 9, "padding": 0, "labelOpacity": 0, "labelFontSize": 20, "zindex": 0}}}},
      {"mark": {"type": "point", "filled": true, "size": 220, "opacity": 1},
       "encoding": {
         "x": {"field": "v", "type": "quantitative"},
         "y": {"field": "e", "type": "quantitative"},
         "color": {"field": "s", "type": "nominal", "scale": {"range": ["#8E8B80", "#4F8E86", "#85E07E", "#7CBF47", "#D8681E"]},
                   "legend": {"orient": "none", "legendX": 206, "legendY": 167, "title": null, "symbolSize": 196, "symbolOpacity": 1, "clipHeight": 20, "rowPadding": 9, "padding": 0, "labelFontSize": 20, "labelFontWeight": "bold", "labelFont": "Liberation Sans", "labelColor": "black", "labelOffset": 20, "zindex": 1}},
         "shape": {"field": "s", "type": "nominal", "scale": {"range": ["square", "circle", "triangle-up", "diamond", "M0,-1.05L1.0,-0.32L0.62,0.85L-0.62,0.85L-1.0,-0.32Z"]},
                   "legend": {"orient": "none", "legendX": 206, "legendY": 167, "title": null, "symbolSize": 196, "symbolOpacity": 1, "clipHeight": 20, "rowPadding": 9, "padding": 0, "labelFontSize": 20, "labelFontWeight": "bold", "labelFont": "Liberation Sans", "labelColor": "black", "labelOffset": 20, "zindex": 1}}}}
     ]}
   ]}
  ]
}
